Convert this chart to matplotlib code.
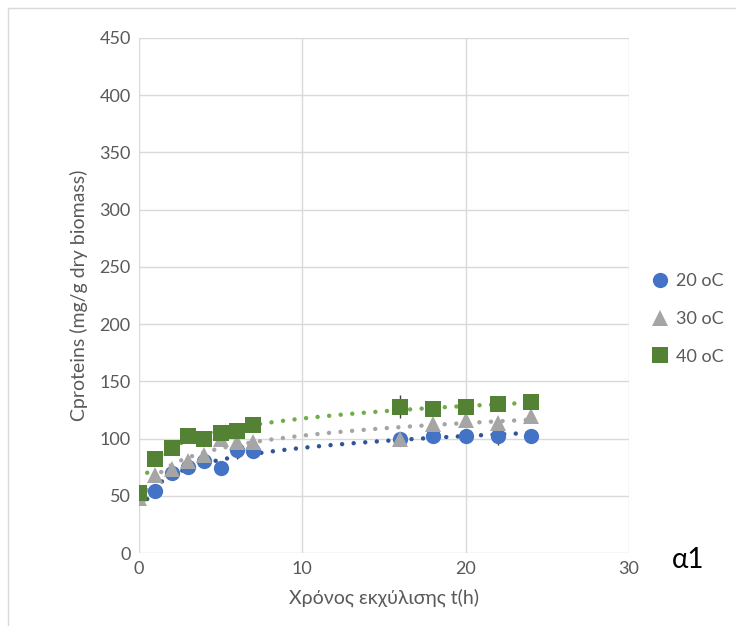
import numpy as np
import matplotlib.pyplot as plt
from matplotlib.patches import Rectangle

plt.rcParams['font.family'] = ['Lato', 'DejaVu Sans']

t = [0, 1, 2, 3, 4, 5, 6, 7, 16, 18, 20, 22, 24]
c20 = [50, 54, 70, 75, 80, 74, 90, 89, 100, 102, 102, 102, 102]
c30 = [48, 68, 73, 80, 86, 100, 97, 97, 100, 113, 116, 114, 120]
c40 = [52, 82, 92, 102, 100, 105, 107, 112, 128, 126, 128, 130, 132]
err20 = [0, 0, 0, 0, 0, 0, 8, 0, 0, 0, 6, 8, 0]
err30 = [3, 0, 0, 5, 0, 0, 4, 0, 0, 0, 3, 0, 0]
err40 = [0, 0, 0, 0, 0, 0, 0, 0, 10, 0, 0, 0, 0]

labels = ['20 oC', '30 oC', '40 oC']
marker_colors = ['#4472C4', '#A5A5A5', '#548235']
trend_colors = ['#2F5597', '#A5A5A5', '#70AD47']
markers = ['o', '^', 's']

fig = plt.figure(figsize=(7.36, 6.26), dpi=100)
ax = fig.add_axes([139 / 736, 1 - 553 / 626, 490 / 736, 515 / 626])

tt = np.array(t, dtype=float)
tfit = np.linspace(0.5, 24, 300)
for series, tc in zip([c20, c30, c40], trend_colors):
    y = np.array(series, dtype=float)
    # logarithmic trendline fitted on t > 0
    mask = tt > 0
    a, b = np.polyfit(np.log(tt[mask]), y[mask], 1)
    ax.plot(tfit, a * np.log(tfit) + b, linestyle=(0, (0.01, 2.6)), color=tc, lw=3.2,
            dash_capstyle='round', zorder=2)

for series, err, lab, mc, mk in zip([c20, c30, c40], [err20, err30, err40],
                                    labels, marker_colors, markers):
    ax.errorbar(t, series, yerr=err, fmt=mk, color=mc, markersize=11, ecolor='#404040',
                elinewidth=1, capsize=4.5, capthick=1.5, label=lab, zorder=3,
                markeredgewidth=0)

ax.set_xlim(0, 30)
ax.set_ylim(0, 450)
ax.set_xticks(range(0, 31, 10))
ax.set_yticks(range(0, 451, 50))
ax.grid(True, color='#D9D9D9', lw=1)
ax.set_axisbelow(True)
for s in ax.spines.values():
    s.set_visible(False)
ax.tick_params(length=0, labelsize=13, colors='#595959', pad=6)
ax.set_xlabel('Χρόνος εκχύλισης t(h)', fontsize=14, color='#595959', labelpad=8)
ax.set_ylabel('Cproteins (mg/g dry biomass)', fontsize=14, color='#595959', labelpad=8)

handles, labs = ax.get_legend_handles_labels()
handles = [h[0] for h in handles]
fig.legend(handles, labs, loc='center left', bbox_to_anchor=(633 / 736, 1 - 319 / 626),
           frameon=False, fontsize=13, labelcolor='#595959', handletextpad=0.3,
           labelspacing=1.2, handlelength=1.2)

fig.text(688 / 736, 1 - 560 / 626, 'α1', fontsize=20, ha='center', va='center', color='black')

fig.patches.append(Rectangle((8 / 736, -0.1), 1, 1.1 - 8 / 626, transform=fig.transFigure,
                             fill=False, edgecolor='#D9D9D9', lw=1))

fig.savefig('out.png', dpi=100)
